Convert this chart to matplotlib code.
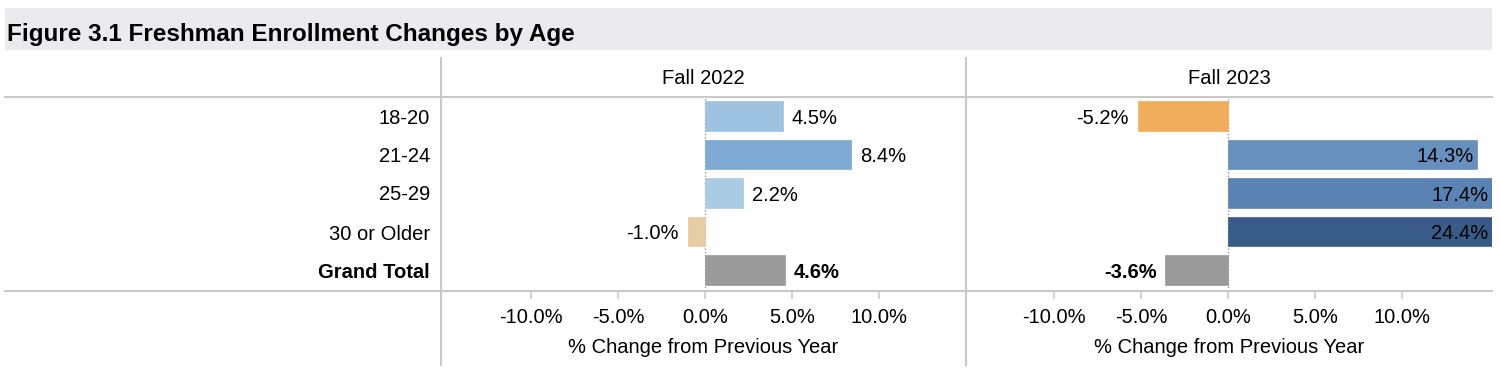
import matplotlib
matplotlib.use("Agg")
import matplotlib.pyplot as plt
from matplotlib.lines import Line2D
from matplotlib.patches import Rectangle

# data
categories = ["18-20", "21-24", "25-29", "30 or Older", "Grand Total"]
fall_2022 = [4.5, 8.4, 2.2, -1.0, 4.6]
fall_2023 = [-5.2, 14.3, 17.4, 24.4, -3.6]
colors_2022 = ["#9dc3e0", "#7ea9d1", "#a9cce4", "#e8cca2", "#9b9b9b"]
colors_2023 = ["#f0ad5c", "#6890be", "#5a82b2", "#385b88", "#9b9b9b"]
panel_titles = ["Fall 2022", "Fall 2023"]
tick_values = [-10, -5, 0, 5, 10]

W, H = 1500, 374
FS = 14.5
plt.rcParams["font.family"] = ["Liberation Sans", "DejaVu Sans"]

fig = plt.figure(figsize=(W / 100, H / 100), dpi=100)


def fx(px):
    return px / W


def fy(py):
    return 1 - py / H


line_col = "#c9c9c9"

# title band
fig.patches.append(Rectangle((fx(5), fy(50)), fx(1487), 42 / H, transform=fig.transFigure,
                             facecolor="#ebebef", edgecolor="none", zorder=0))
fig.text(fx(7), fy(32), "Figure 3.1 Freshman Enrollment Changes by Age", fontsize=17.5,
         fontweight="bold", va="center_baseline", ha="left")

# grid lines of the table
for y in (97, 291):
    fig.lines.append(Line2D([fx(5), fx(1492)], [fy(y), fy(y)], transform=fig.transFigure,
                            color=line_col, lw=1.5))
for x in (441, 966):
    fig.lines.append(Line2D([fx(x), fx(x)], [fy(58), fy(365)], transform=fig.transFigure,
                            color=line_col, lw=1.5))

# row labels
row_y = [116, 155, 193, 232, 270]
for lab, y in zip(categories, row_y):
    fig.text(fx(430), fy(y), lab, fontsize=FS, ha="right", va="center_baseline",
             fontweight="bold" if lab == "Grand Total" else "normal")

panels = [(441, 966, fall_2022, colors_2022, (-15.17, 15.0)),
          (966, 1492, fall_2023, colors_2023, (-15.06, 15.17))]

for (x0, x1, vals, cols, xlim), title in zip(panels, panel_titles):
    ax = fig.add_axes([fx(x0), fy(291), fx(x1 - x0), (291 - 97) / H])
    ax.patch.set_alpha(0)
    pos = list(range(len(categories)))
    ax.barh(pos, vals, height=0.76, color=cols, edgecolor=cols, linewidth=0.5)
    ax.set_xlim(*xlim)
    ax.set_ylim(4.545, -0.494)
    ax.axvline(0, color="#999999", lw=1, ls=(0, (1, 1.5)), zorder=0)
    for s in ax.spines.values():
        s.set_visible(False)
    ax.set_yticks([])
    ax.set_xticks(tick_values)
    ax.set_xticklabels([f"{t:.1f}%" for t in tick_values], fontsize=FS)
    ax.tick_params(axis="x", length=6, width=1.2, color=line_col, pad=6)
    ax.set_xlabel("% Change from Previous Year", fontsize=FS, labelpad=8)
    ax.text(0.5, 1.0 + 21 / 194, title, transform=ax.transAxes, ha="center",
            va="center_baseline", fontsize=FS)
    for i, v in enumerate(vals):
        bold = "bold" if i == len(vals) - 1 else "normal"
        if v >= 0 and v + 3.8 > xlim[1]:
            ax.text(min(v, xlim[1]) - 0.2, i, f"{v:.1f}%", ha="right", va="center_baseline",
                    fontsize=FS, fontweight=bold)
        elif v >= 0:
            ax.text(v + 0.5, i, f"{v:.1f}%", ha="left", va="center_baseline", fontsize=FS,
                    fontweight=bold)
        else:
            ax.text(v - 0.5, i, f"{v:.1f}%", ha="right", va="center_baseline", fontsize=FS,
                    fontweight=bold)

fig.savefig("out.png", dpi=100)
